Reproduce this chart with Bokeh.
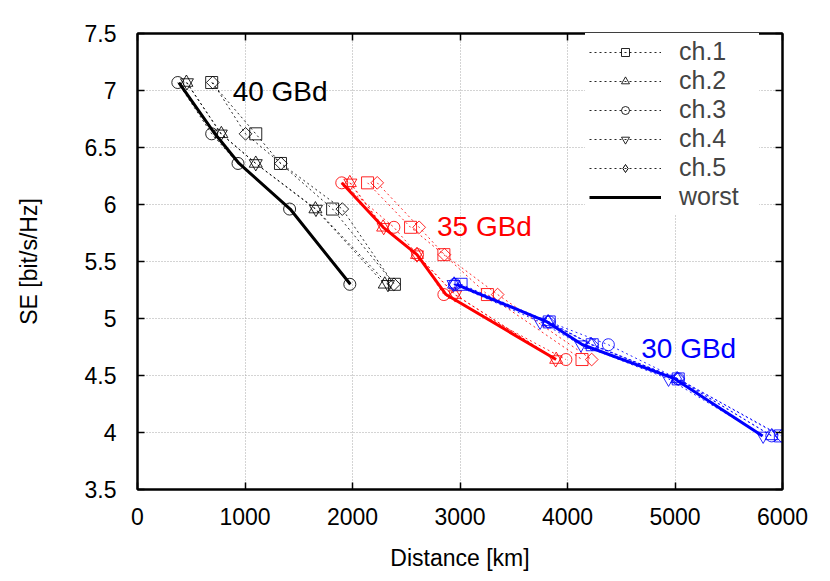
from bokeh.plotting import figure
from bokeh.models import (FixedTicker, LinearAxis, Label, Legend, LegendItem, Range1d)
from bokeh.embed import file_html
from bokeh.resources import INLINE
import math

# ---- data ----
channels = ["ch.1", "ch.2", "ch.3", "ch.4", "ch.5"]

se40 = [7.07, 6.62, 6.36, 5.96, 5.30]
d40_ch1 = [690, 1100, 1330, 1815, 2390]
d40_ch2 = [455, 780, 1100, 1655, 2300]
d40_ch3 = [375, 690, 935, 1415, 1975]
d40_ch4 = [460, 775, 1100, 1660, 2330]
d40_ch5 = [700, 1005, 1335, 1905, 2385]
d40_worst = [385, 720, 945, 1420, 1980]

se35 = [6.19, 5.80, 5.56, 5.21, 4.64]
d35_ch1 = [2140, 2540, 2850, 3255, 4135]
d35_ch2 = [1975, 2285, 2600, 2950, 3895]
d35_ch3 = [1900, 2385, 2605, 2850, 3985]
d35_ch4 = [1980, 2290, 2600, 2955, 3890]
d35_ch5 = [2230, 2620, 2855, 3350, 4225]
d35_worst = [1900, 2286, 2600, 2870, 3894]

se30 = [5.30, 4.97, 4.77, 4.47, 3.97]
d30_ch1 = [3010, 3830, 4230, 5030, 5980]
d30_ch2 = [2945, 3820, 4220, 5020, 5900]
d30_ch3 = [2950, 3830, 4380, 5030, 5900]
d30_ch4 = [2940, 3745, 4125, 4940, 5820]
d30_ch5 = [2950, 3820, 4230, 5030, 5990]
d30_worst = [2965, 3810, 4140, 5000, 5815]

xtick_vals = [0, 1000, 2000, 3000, 4000, 5000, 6000]
xtick_labels = ["0", "1000", "2000", "3000", "4000", "5000", "6000"]
ytick_vals = [3.5, 4.0, 4.5, 5.0, 5.5, 6.0, 6.5, 7.0, 7.5]
ytick_labels = ["3.5", "4", "4.5", "5", "5.5", "6", "6.5", "7", "7.5"]

FONT = "Liberation Sans"

p = figure(width=820, height=573, output_backend="svg", toolbar_location=None,
           x_range=Range1d(0, 6000), y_range=Range1d(3.5, 7.5),
           min_border_left=137, min_border_right=38, min_border_top=33, min_border_bottom=81)
p.background_fill_color = "white"
p.border_fill_color = "white"
p.outline_line_color = "black"
p.outline_line_width = 2

# axes
for ax in (p.xaxis[0], p.yaxis[0]):
    ax.axis_line_width = 2
    ax.major_tick_in = 7
    ax.major_tick_out = 0
    ax.major_tick_line_width = 1.5
    ax.minor_tick_line_color = None
    ax.major_label_text_font = FONT
    ax.major_label_text_font_size = "23px"
    ax.major_label_text_color = "black"
    ax.axis_label_text_font = FONT
    ax.axis_label_text_font_size = "23px"
    ax.axis_label_text_font_style = "normal"
    ax.axis_label_text_color = "black"

p.xaxis[0].ticker = FixedTicker(ticks=xtick_vals)
p.xaxis[0].major_label_overrides = dict(zip(xtick_vals, xtick_labels))
p.xaxis[0].axis_label = "Distance [km]"
p.xaxis[0].major_label_standoff = 18
p.xaxis[0].axis_label_standoff = 17

p.yaxis[0].ticker = FixedTicker(ticks=ytick_vals)
p.yaxis[0].major_label_overrides = {v: l for v, l in zip(ytick_vals, ytick_labels)}
p.yaxis[0].axis_label = "SE [bit/s/Hz]"
p.yaxis[0].major_label_standoff = 21
p.yaxis[0].axis_label_standoff = 40

# mirrored axes (ticks only, no labels)
rax = LinearAxis(ticker=FixedTicker(ticks=ytick_vals),
                 major_label_overrides={v: "" for v in ytick_vals},
                 major_label_text_color=None,
                 major_tick_in=7, major_tick_out=0, major_tick_line_width=1.5,
                 minor_tick_line_color=None, axis_line_width=2, major_label_standoff=0)
tax = LinearAxis(ticker=FixedTicker(ticks=xtick_vals),
                 major_label_overrides={v: "" for v in xtick_vals},
                 major_label_text_color=None,
                 major_tick_in=7, major_tick_out=0, major_tick_line_width=1.5,
                 minor_tick_line_color=None, axis_line_width=2, major_label_standoff=0)
p.add_layout(rax, "right")
p.add_layout(tax, "above")

# grid
p.xgrid.ticker = FixedTicker(ticks=xtick_vals)
p.ygrid.ticker = FixedTicker(ticks=ytick_vals)
for g in (p.xgrid[0], p.ygrid[0]):
    g.grid_line_color = "#a8a8a8"
    g.grid_line_dash = "1 2"
    g.grid_line_width = 1

markers = ["square", "triangle", "circle", "inverted_triangle", "square"]
angles = [0, 0, 0, 0, math.pi / 4]
sizes = [12, 13, 12, 13, 9]

groups = [
    ("black", se40, [d40_ch1, d40_ch2, d40_ch3, d40_ch4, d40_ch5], d40_worst),
    ("red", se35, [d35_ch1, d35_ch2, d35_ch3, d35_ch4, d35_ch5], d35_worst),
    ("blue", se30, [d30_ch1, d30_ch2, d30_ch3, d30_ch4, d30_ch5], d30_worst),
]

legend_items = []
worst_renderer = None
for gi, (color, se, chs, worst) in enumerate(groups):
    for ci, d in enumerate(chs):
        ln = p.line(d, se, line_color=color, line_width=1, line_dash="2 3", line_alpha=0.85)
        sc = p.scatter(d, se, marker=markers[ci], size=sizes[ci], angle=angles[ci],
                       fill_color=None, line_color=color, line_width=1, line_alpha=0.85)
        if gi == 0:
            if ci == 4:
                # hidden renderer of the same series, used only for the legend's diamond glyph
                sc = p.scatter(d, se, marker="diamond", size=13, fill_color=None,
                               line_color=color, line_width=1, visible=False)
            legend_items.append(LegendItem(label=channels[ci], renderers=[ln, sc]))
    wl = p.line(worst, se, line_color=color, line_width=3)
    if gi == 0:
        worst_renderer = wl
legend_items.append(LegendItem(label="worst", renderers=[worst_renderer]))

legend = Legend(items=legend_items, location=(448, 274),
                glyph_width=72, glyph_height=20, label_standoff=18,
                label_text_font=FONT, label_text_font_size="25px",
                label_height=20, label_width=76, spacing=0, padding=4, margin=0,
                background_fill_color="white", background_fill_alpha=1.0,
                border_line_alpha=0, inactive_fill_alpha=0)
p.add_layout(legend)

# rate annotations
p.add_layout(Label(x=885, y=6.99, text="40 GBd", text_color="black", text_font=FONT,
                   text_font_size="28px", text_baseline="middle"))
p.add_layout(Label(x=2786, y=5.81, text="35 GBd", text_color="red", text_font=FONT,
                   text_font_size="28px", text_baseline="middle"))
p.add_layout(Label(x=4686, y=4.74, text="30 GBd", text_color="blue", text_font=FONT,
                   text_font_size="28px", text_baseline="middle"))

open("out.html", "w").write(file_html(p, INLINE))
